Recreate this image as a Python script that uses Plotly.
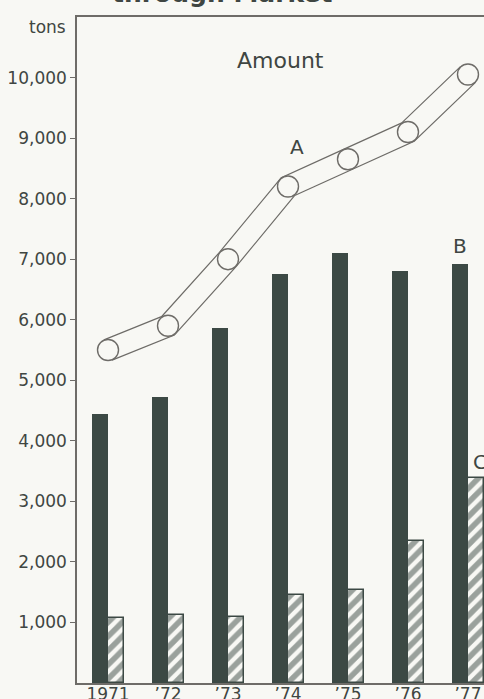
import plotly.graph_objects as go

# Yearly amounts (tons)
years = ["1971", "’72", "’73", "’74", "’75", "’76", "’77"]
amount_a = [5500, 5900, 7000, 8200, 8650, 9100, 10050]
amount_b = [4450, 4730, 5870, 6760, 7110, 6800, 6920]
amount_c = [1070, 1130, 1090, 1450, 1540, 2340, 3390]
y_ticks = [1000, 2000, 3000, 4000, 5000, 6000, 7000, 8000, 9000, 10000]
y_tick_text = ["1,000", "2,000", "3,000", "4,000", "5,000", "6,000",
               "7,000", "8,000", "9,000", "10,000"]

xs = list(range(len(years)))

BG = "#f8f8f4"
DARK = "#3c4944"
INK = "#3f4642"
OUTLINE = "#6e6c68"
FONT = "DejaVu Sans"
BAR_W = 0.267

fig = go.Figure()

# B: solid dark bars, left half of each year slot
fig.add_trace(go.Bar(
    x=xs, y=amount_b, width=BAR_W, offset=-BAR_W,
    marker=dict(color=DARK, line=dict(width=0)),
    showlegend=False, hoverinfo="skip",
))

# C: hatched bars, right half of each year slot
fig.add_trace(go.Bar(
    x=xs, y=amount_c, width=BAR_W, offset=0,
    marker=dict(
        color=BG,
        line=dict(color=DARK, width=1.5),
        pattern=dict(shape="/", fgcolor=DARK, bgcolor=BG, size=10, solidity=0.55),
    ),
    showlegend=False, hoverinfo="skip",
))

# A: "tube" line -- a wide outline stroke with a slightly narrower fill on top
fig.add_trace(go.Scatter(
    x=xs, y=amount_a, mode="lines",
    line=dict(color=OUTLINE, width=23),
    showlegend=False, hoverinfo="skip",
))
fig.add_trace(go.Scatter(
    x=xs, y=amount_a, mode="lines",
    line=dict(color=BG, width=20.6),
    showlegend=False, hoverinfo="skip",
))
fig.add_trace(go.Scatter(
    x=xs, y=amount_a, mode="markers",
    marker=dict(size=21, color=BG, line=dict(color=OUTLINE, width=1.4)),
    showlegend=False, hoverinfo="skip",
))

annotations = [
    dict(text="<b>through Market</b>", x=0.357, y=1.011, xref="paper", yref="paper",
         xanchor="center", yanchor="bottom", showarrow=False,
         font=dict(family=FONT, size=25, color=INK)),
    dict(text="tons", x=-0.022, y=0.985, xref="paper", yref="paper",
         xanchor="right", yanchor="middle", showarrow=False,
         font=dict(family=FONT, size=17, color=INK)),
    dict(text="Amount", x=0.499, y=0.935, xref="paper", yref="paper",
         xanchor="center", yanchor="middle", showarrow=False,
         font=dict(family=FONT, size=22, color=INK)),
    dict(text="A", x=3.15, y=8850, xref="x", yref="y",
         xanchor="center", yanchor="middle", showarrow=False,
         font=dict(family=FONT, size=20, color=INK)),
    dict(text="B", x=xs[-1] - BAR_W / 2, y=amount_b[-1], xref="x", yref="y",
         xanchor="center", yanchor="bottom", yshift=4, showarrow=False,
         font=dict(family=FONT, size=20, color=INK)),
    dict(text="C", x=xs[-1] + BAR_W / 2, y=amount_c[-1], xref="x", yref="y",
         xanchor="center", yanchor="bottom", xshift=4, yshift=2, showarrow=False,
         font=dict(family=FONT, size=20, color=INK)),
]

fig.update_layout(
    width=484, height=699,
    margin=dict(l=77, r=0, t=17, b=16, pad=0),
    paper_bgcolor=BG, plot_bgcolor=BG,
    bargap=0, barmode="overlay",
    annotations=annotations,
    font=dict(family=FONT, color=INK),
)

fig.update_xaxes(
    range=[-0.517, 6.267], automargin=False,
    tickvals=xs, ticktext=years, ticks="", ticklabelstandoff=-5,
    tickfont=dict(family=FONT, size=17, color=INK),
    showline=True, linecolor=OUTLINE, linewidth=1.5, mirror=True,
    showgrid=False, zeroline=False, fixedrange=True,
)
fig.update_yaxes(
    range=[0, 11000], automargin=False,
    tickvals=y_ticks, ticktext=y_tick_text,
    ticks="outside", ticklen=5, tickwidth=1.2, tickcolor=OUTLINE,
    tickfont=dict(family=FONT, size=17, color=INK),
    showline=True, linecolor=OUTLINE, linewidth=1.5, mirror=False,
    showgrid=False, zeroline=False, fixedrange=True,
)

fig.write_html("out.html", config=dict(displayModeBar=False))
